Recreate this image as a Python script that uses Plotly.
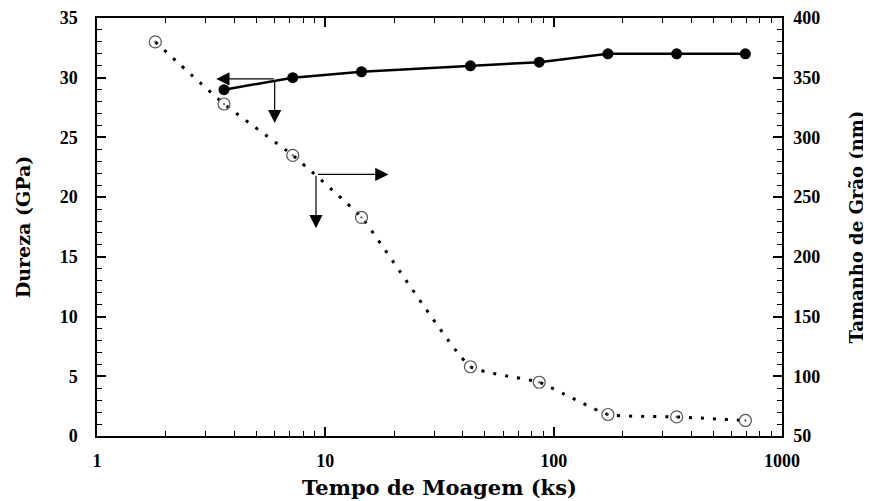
import math
import plotly.graph_objects as go

# Data
tempo_dureza = [3.6, 7.2, 14.4, 43.2, 86.4, 172.8, 345.6, 691.2]
dureza = [29.0, 30.0, 30.5, 31.0, 31.3, 32.0, 32.0, 32.0]
tempo_grao = [1.8, 3.6, 7.2, 14.4, 43.2, 86.4, 172.8, 345.6, 691.2]
grao = [380, 328, 285, 233, 108, 95, 68, 66, 63]

x_ticks = [1, 10, 100, 1000]
x_ticklabels = ["1", "10", "100", "1000"]
x_minor = [m * d for d in (1, 10, 100) for m in range(2, 10)]

FONT = "Liberation Serif"
TFONT = "DejaVu Serif"

fig = go.Figure()
fig.add_trace(go.Scatter(
    x=tempo_grao, y=grao, yaxis="y2", mode="lines+markers",
    line=dict(color="black", width=3, dash="3px,9px", shape="spline", smoothing=0.4),
    marker=dict(symbol="circle-open-dot", size=12, color="#555555", line=dict(width=1.2, color="#555555")),
    showlegend=False,
))
fig.add_trace(go.Scatter(
    x=tempo_dureza, y=dureza, mode="lines+markers",
    line=dict(color="black", width=2.5),
    marker=dict(symbol="circle", size=11, color="black"),
    showlegend=False,
))

ann_common = dict(xref="x", yref="y", showarrow=True, arrowhead=2, arrowsize=2.2,
                  arrowwidth=1.2, arrowcolor="black", standoff=0, text="")
annotations = [
    dict(x=math.log10(3.33), y=29.9, ax=59, ay=0, **ann_common),
    dict(x=math.log10(6.0), y=26.2, ax=0, ay=-44, **ann_common),
    dict(x=math.log10(18.9), y=21.9, ax=-72, ay=0, **ann_common),
    dict(x=math.log10(9.1), y=17.4, ax=0, ay=-54, **ann_common),
]

fig.update_layout(
    width=871, height=501,
    margin=dict(l=89, r=97, t=10, b=73, autoexpand=False),
    paper_bgcolor="white", plot_bgcolor="white",
    font=dict(family=FONT, color="black"),
    annotations=annotations,
    xaxis=dict(
        type="log", range=[0, 3], tickvals=x_ticks, ticktext=x_ticklabels, automargin=False,
        showgrid=False, zeroline=False, showline=True, linecolor="black", linewidth=1.5,
        mirror="ticks", ticks="inside", ticklen=9, tickwidth=1.5, tickcolor="black",
        minor=dict(tickvals=x_minor, ticks="inside", ticklen=5, tickwidth=1, tickcolor="black", showgrid=False),
        tickfont=dict(family=FONT, size=18, color="black", weight="bold"),
        ticklabelstandoff=8,
        title=dict(text="<b>Tempo de Moagem (ks)</b>", font=dict(family=TFONT, size=21), standoff=10),
    ),
    yaxis=dict(
        range=[0, 35], dtick=5, showgrid=False, zeroline=False, showline=True, automargin=False,
        linecolor="black", linewidth=1.5, ticks="inside", ticklen=9, tickwidth=1.5, tickcolor="black",
        minor=dict(dtick=1, ticks="inside", ticklen=5, tickwidth=1, tickcolor="black", showgrid=False),
        tickfont=dict(family=FONT, size=18, color="black", weight="bold"),
        ticklabelstandoff=14,
        title=dict(text="<b>Dureza (GPa)</b>", font=dict(family=TFONT, size=19), standoff=24),
    ),
    yaxis2=dict(
        range=[50, 400], dtick=50, overlaying="y", side="right", showgrid=False, zeroline=False,
        showline=True, linecolor="black", linewidth=1.5, ticks="inside", ticklen=9, tickwidth=1.5,
        tickcolor="black", automargin=False,
        minor=dict(dtick=10, ticks="inside", ticklen=5, tickwidth=1, tickcolor="black", showgrid=False),
        tickfont=dict(family=FONT, size=18, color="black", weight="bold"),
        ticklabelstandoff=6,
        title=dict(text="<b>Tamanho de Grão (nm)</b>", font=dict(family=TFONT, size=18), standoff=31),
    ),
)

fig.write_html("out.html")
